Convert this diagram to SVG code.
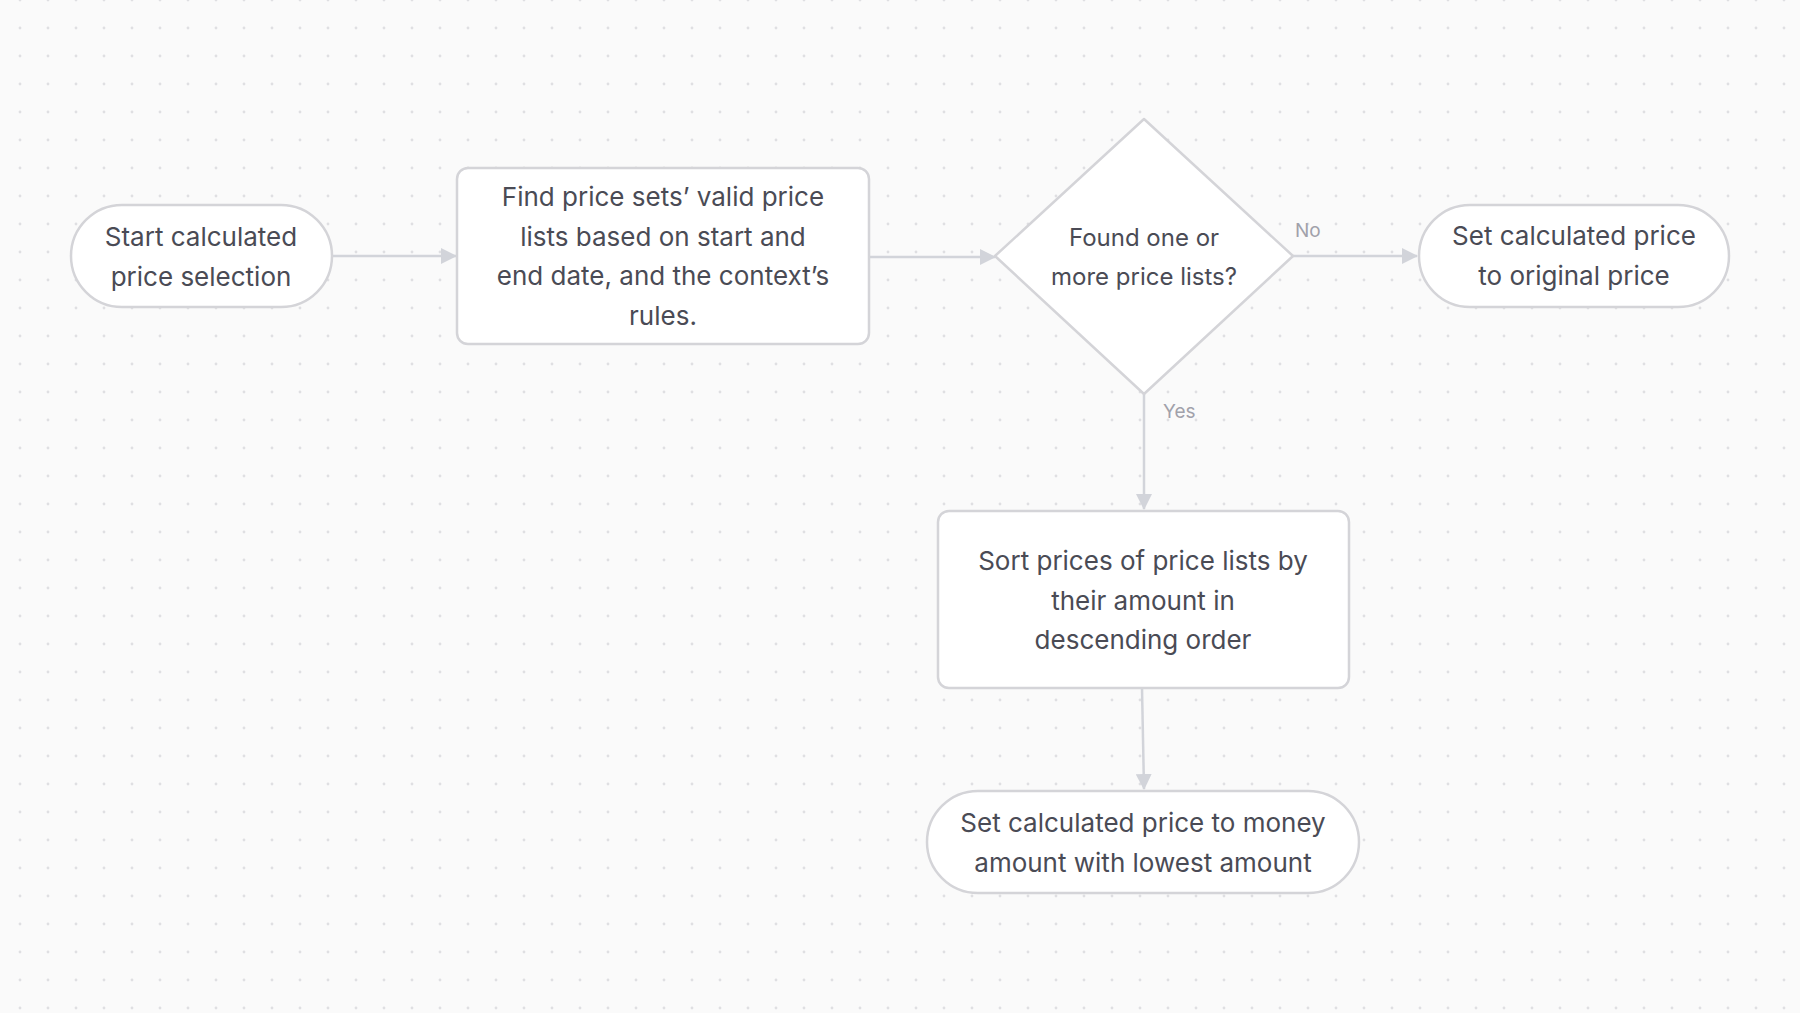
<svg xmlns="http://www.w3.org/2000/svg" width="1800" height="1013" viewBox="0 0 1800 1013">
<defs>
<pattern id="dots" x="20" y="0" width="28" height="28" patternUnits="userSpaceOnUse">
<circle cx="0" cy="0" r="1.4" fill="#dfdfe2"/>
<circle cx="28" cy="0" r="1.4" fill="#dfdfe2"/>
<circle cx="0" cy="28" r="1.4" fill="#dfdfe2"/>
<circle cx="28" cy="28" r="1.4" fill="#dfdfe2"/>
</pattern>
<marker id="arrow" viewBox="0 0 16 16" refX="15" refY="8" markerWidth="16" markerHeight="16" markerUnits="userSpaceOnUse" orient="auto">
<path d="M0,0 L16,8 L0,16 Z" fill="#d2d4da"/>
</marker>
<style>
.node{fill:#ffffff;stroke:#d4d4d8;stroke-width:2.5}
.t{font-family:Inter,"Noto Sans","Liberation Sans",sans-serif;font-size:26px;fill:#4a4b55;text-anchor:middle}
.td{font-size:24px}
.edge{fill:none;stroke:#d2d4da;stroke-width:2.5}
.lbl{font-family:Inter,"Noto Sans","Liberation Sans",sans-serif;font-size:19px;fill:#a1a1aa}
</style>
</defs>
<rect width="1800" height="1013" fill="#fafafa"/>
<rect width="1800" height="1013" fill="url(#dots)"/>
<g id="connectors">
<line class="edge" x1="332" y1="256" x2="456" y2="256" marker-end="url(#arrow)"/>
<line class="edge" x1="869" y1="257" x2="995" y2="257" marker-end="url(#arrow)"/>
<line class="edge" x1="1293" y1="256" x2="1417" y2="256" marker-end="url(#arrow)"/>
<line class="edge" x1="1144" y1="394" x2="1144" y2="509" marker-end="url(#arrow)"/>
<line class="edge" x1="1142" y1="688" x2="1144" y2="789" marker-end="url(#arrow)"/>
<text class="lbl" x="1295" y="237">No</text>
<text class="lbl" x="1163" y="418">Yes</text>
</g>
<g id="start">
<rect class="node" x="71" y="205" width="261" height="102" rx="51"/>
<text class="t" x="201" y="246">Start calculated</text>
<text class="t" x="201" y="286">price selection</text>
</g>
<g id="find">
<rect class="node" x="457" y="168" width="412" height="176" rx="11"/>
<text class="t" x="663" y="206">Find price sets’ valid price</text>
<text class="t" x="663" y="246">lists based on start and</text>
<text class="t" x="663" y="285">end date, and the context’s</text>
<text class="t" x="663" y="325">rules.</text>
</g>
<g id="decision">
<path class="node" stroke-linejoin="round" d="M1144,119 L1293,256 L1144,394 L995,256 Z"/>
<text class="t td" x="1144" y="246">Found one or</text>
<text class="t td" x="1144" y="285">more price lists?</text>
</g>
<g id="original">
<rect class="node" x="1419" y="205" width="310" height="102" rx="51"/>
<text class="t" x="1574" y="245">Set calculated price</text>
<text class="t" x="1574" y="285">to original price</text>
</g>
<g id="sort">
<rect class="node" x="938" y="511" width="411" height="177" rx="11"/>
<text class="t" x="1143" y="570">Sort prices of price lists by</text>
<text class="t" x="1143" y="610">their amount in</text>
<text class="t" x="1143" y="649">descending order</text>
</g>
<g id="lowest">
<rect class="node" x="927" y="791" width="432" height="102" rx="51"/>
<text class="t" x="1143" y="832">Set calculated price to money</text>
<text class="t" x="1143" y="872">amount with lowest amount</text>
</g>
</svg>
